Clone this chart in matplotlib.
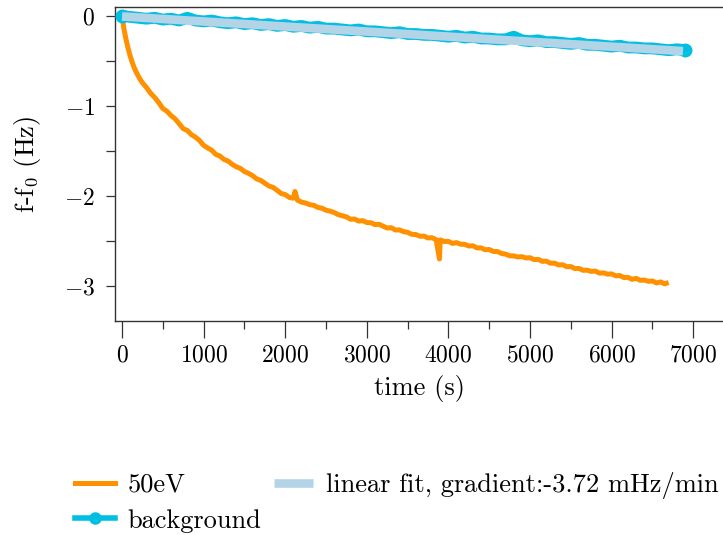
import matplotlib
matplotlib.use("Agg")
import matplotlib.pyplot as plt
from matplotlib.ticker import MultipleLocator
from matplotlib.lines import Line2D

plt.rcParams['font.family'] = ['cmr10', 'DejaVu Serif']
plt.rcParams['mathtext.fontset'] = 'cm'
plt.rcParams['axes.formatter.use_mathtext'] = True
plt.rcParams['axes.unicode_minus'] = True

# ---- data ----
ev_time = [0, 25, 50, 75, 100, 125, 150, 175, 200, 225, 250, 300, 350, 400, 450, 500,
           550, 600, 650, 700, 750, 800, 850, 900, 950, 1000, 1050, 1100, 1150, 1200,
           1250, 1300, 1350, 1400, 1450, 1500, 1550, 1600, 1650, 1700, 1750, 1800,
           1850, 1900, 1950, 2000, 2050, 2100, 2120, 2150, 2200, 2250, 2300, 2350,
           2400, 2450, 2500, 2550, 2600, 2650, 2700, 2750, 2800, 2850, 2900, 2950,
           3000, 3050, 3100, 3150, 3200, 3250, 3300, 3350, 3400, 3450, 3500, 3550,
           3600, 3650, 3700, 3750, 3800, 3850, 3890, 3900, 3950, 4000, 4050, 4100,
           4150, 4200, 4250, 4300, 4350, 4400, 4450, 4500, 4550, 4600, 4650, 4700,
           4750, 4800, 4850, 4900, 4950, 5000, 5050, 5100, 5150, 5200, 5250, 5300,
           5350, 5400, 5450, 5500, 5550, 5600, 5650, 5700, 5750, 5800, 5850, 5900,
           5950, 6000, 6050, 6100, 6150, 6200, 6250, 6300, 6350, 6400, 6450, 6500,
           6550, 6600, 6650, 6670]
ev_freq = [0.000, -0.150, -0.265, -0.360, -0.445, -0.515, -0.575, -0.625, -0.668,
           -0.708, -0.742, -0.795, -0.858, -0.905, -0.962, -1.028, -1.058, -1.106,
           -1.142, -1.196, -1.252, -1.272, -1.318, -1.346, -1.384, -1.437, -1.466,
           -1.492, -1.538, -1.556, -1.594, -1.612, -1.648, -1.675, -1.693, -1.728,
           -1.748, -1.774, -1.810, -1.826, -1.857, -1.889, -1.904, -1.936, -1.972,
           -1.984, -2.016, -2.024, -1.950, -2.046, -2.068, -2.078, -2.096, -2.104,
           -2.127, -2.136, -2.158, -2.168, -2.184, -2.207, -2.219, -2.232, -2.258,
           -2.256, -2.279, -2.274, -2.295, -2.297, -2.318, -2.314, -2.336, -2.356,
           -2.352, -2.378, -2.377, -2.396, -2.404, -2.426, -2.428, -2.447, -2.446,
           -2.466, -2.464, -2.486, -2.700, -2.488, -2.506, -2.504, -2.527, -2.518,
           -2.536, -2.537, -2.556, -2.553, -2.577, -2.576, -2.597, -2.594, -2.616,
           -2.617, -2.638, -2.646, -2.664, -2.666, -2.677, -2.674, -2.688, -2.686,
           -2.707, -2.704, -2.726, -2.724, -2.747, -2.746, -2.766, -2.764, -2.786,
           -2.784, -2.807, -2.805, -2.826, -2.824, -2.838, -2.834, -2.857, -2.854,
           -2.868, -2.866, -2.887, -2.884, -2.906, -2.904, -2.926, -2.915, -2.937,
           -2.934, -2.948, -2.944, -2.966, -2.955, -2.976, -2.970]

bg_time = [0, 100, 200, 300, 400, 500, 600, 700, 800, 900, 1000, 1100, 1200, 1300,
           1400, 1500, 1600, 1700, 1800, 1900, 2000, 2100, 2200, 2300, 2400, 2500,
           2600, 2700, 2800, 2900, 3000, 3100, 3200, 3300, 3400, 3500, 3600, 3700,
           3800, 3900, 4000, 4100, 4200, 4300, 4400, 4500, 4600, 4700, 4800, 4900,
           5000, 5100, 5200, 5300, 5400, 5500, 5600, 5700, 5800, 5900, 6000, 6100,
           6200, 6300, 6400, 6500, 6600, 6700, 6800, 6900]
bg_freq = [0.00, -0.01, -0.02, -0.03, -0.02, -0.04, -0.03, -0.05, -0.02, -0.05, -0.06,
           -0.05, -0.07, -0.08, -0.07, -0.09, -0.08, -0.10, -0.09, -0.11, -0.10, -0.12,
           -0.11, -0.13, -0.12, -0.14, -0.14, -0.15, -0.16, -0.15, -0.17, -0.17, -0.18,
           -0.19, -0.18, -0.20, -0.20, -0.21, -0.21, -0.22, -0.23, -0.22, -0.24, -0.23,
           -0.25, -0.25, -0.26, -0.26, -0.23, -0.27, -0.28, -0.27, -0.29, -0.29, -0.30,
           -0.31, -0.30, -0.32, -0.32, -0.33, -0.34, -0.33, -0.35, -0.35, -0.36, -0.36,
           -0.37, -0.38, -0.37, -0.38]

fit_time = [0, 6875]
fit_freq = [-0.005, -0.39]
fit_label = "linear fit, gradient:-3.72 mHz/min"

ORANGE = '#ff9100'
CYAN = '#00bfe2'
LIGHTBLUE = '#b3d4e7'

fig = plt.figure(figsize=(7.23, 5.35), dpi=100)
ax = fig.add_axes([115 / 723, 1 - 321 / 535, (723 - 115) / 723, (321 - 7) / 535])

l1, = ax.plot(ev_time, ev_freq, color=ORANGE, lw=3.6, label='50eV', zorder=2)
ax.plot(bg_time, bg_freq, color=CYAN, lw=8.5, marker='o', ms=9, markevery=[0, -1],
        solid_joinstyle='round', solid_capstyle='round', zorder=3)
l3, = ax.plot(fit_time, fit_freq, color=LIGHTBLUE, lw=6.2, solid_capstyle='butt',
              label=fit_label, zorder=4)
l2 = Line2D([], [], color=CYAN, lw=4, marker='o', ms=8, label='background')

ax.set_xlim(-86, 7365)
ax.set_ylim(-3.389, 0.1)
ax.xaxis.set_major_locator(MultipleLocator(1000))
ax.xaxis.set_minor_locator(MultipleLocator(500))
ax.yaxis.set_major_locator(MultipleLocator(1))
ax.yaxis.set_minor_locator(MultipleLocator(0.5))

ax.spines['right'].set_visible(False)
for s in ['left', 'bottom', 'top']:
    ax.spines[s].set_linewidth(1.0)
    ax.spines[s].set_color('#333333')

ax.tick_params(axis='x', which='major', direction='out', length=12, width=0.9,
               labelsize=17, pad=5, color='#333333')
ax.tick_params(axis='x', which='minor', direction='out', length=6, width=0.9,
               color='#333333')
ax.tick_params(axis='y', which='both', direction='out', length=6.5, width=0.9,
               labelsize=17, pad=8, color='#333333')

ax.set_xlabel('time (s)', fontsize=19, labelpad=6)
ax.set_ylabel('f-f$_0$ (Hz)', fontsize=19, labelpad=15)

fig.legend(handles=[l1, l2, l3], loc='upper left', ncol=2, frameon=False,
           bbox_to_anchor=(75 / 723, 1 - 472 / 535), bbox_transform=fig.transFigure,
           fontsize=19, borderaxespad=0, borderpad=0, handlelength=1.5,
           handletextpad=0.5, columnspacing=0.45, labelspacing=0.45, numpoints=1)

fig.savefig('out.png', dpi=100)
